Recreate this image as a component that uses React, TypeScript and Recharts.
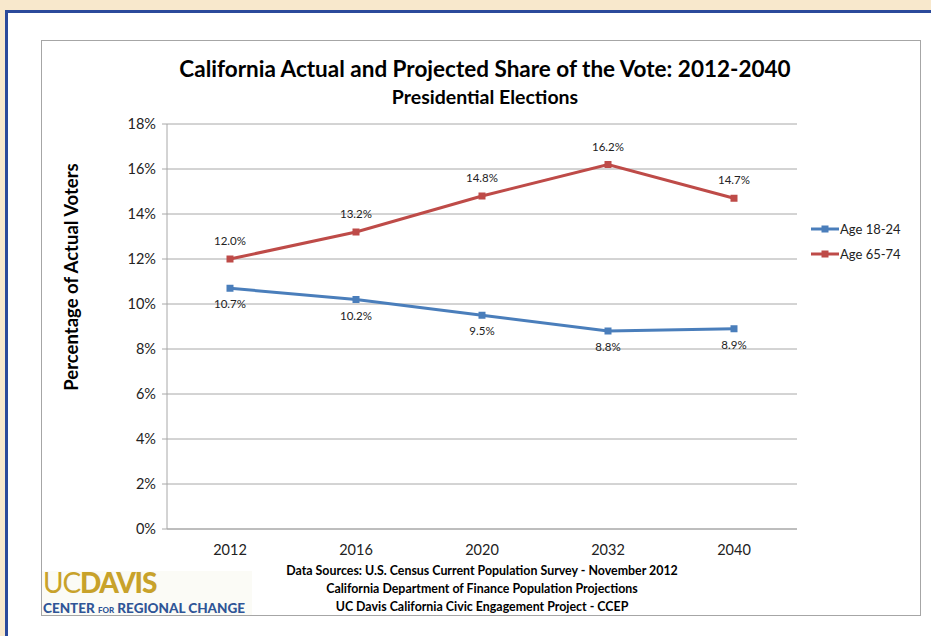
import React from 'react'
import { LineChart, Line, XAxis, YAxis, CartesianGrid, LabelList } from 'recharts'

const YEARS = ['2012', '2016', '2020', '2032', '2040']
const AGE_18_24 = [10.7, 10.2, 9.5, 8.8, 8.9]
const AGE_65_74 = [12.0, 13.2, 14.8, 16.2, 14.7]
const Y_TICKS = [0, 2, 4, 6, 8, 10, 12, 14, 16, 18]
const SOURCES = [
  'Data Sources: U.S. Census Current Population Survey - November 2012',
  'California Department of Finance Population Projections',
  'UC Davis California Civic Engagement Project - CCEP',
]

const BLUE = '#4a7ebb'
const RED = '#be4b48'
const FONT = 'Lato, "Open Sans", sans-serif'

const data = YEARS.map((year, i) => ({ year, young: AGE_18_24[i], old: AGE_65_74[i] }))

const SquareDot = (props: any) => {
  const { cx, cy, stroke } = props
  if (cx == null || cy == null) return null
  return <rect x={cx - 3.5} y={cy - 3.5} width={7} height={7} fill={stroke} />
}

const LegendBox = () => (
  <div style={{ fontFamily: FONT, fontSize: 13, color: '#222' }}>
    {[
      { name: 'Age 18-24', color: BLUE },
      { name: 'Age 65-74', color: RED },
    ].map((s) => (
      <div key={s.name} style={{ display: 'flex', alignItems: 'center', height: 25 }}>
        <svg width={28} height={10}>
          <line x1={0} y1={5} x2={28} y2={5} stroke={s.color} strokeWidth={3} />
          <rect x={10.5} y={1.5} width={7} height={7} fill={s.color} />
        </svg>
        <span style={{ marginLeft: 1 }}>{s.name}</span>
      </div>
    ))}
  </div>
)

export default function App() {
  return (
    <div style={{ position: 'absolute', left: 0, top: 0, width: 931, height: 636, background: '#f8e8cc', overflow: 'hidden', fontFamily: FONT }}>
      <div style={{ position: 'absolute', left: 5, top: 10, width: 960, height: 660, border: '3px solid #2b4a9b', background: '#fff' }} />
      <div style={{ position: 'absolute', left: 41, top: 40, width: 878, height: 574, border: '1px solid #a6a6a6', background: '#fff' }}>
        <div style={{ position: 'absolute', left: 0, width: 878, top: 14, textAlign: 'center', fontWeight: 700, fontSize: 22.5, color: '#000', paddingLeft: 4 }}>
          California Actual and Projected Share of the Vote: 2012-2040
        </div>
        <div style={{ position: 'absolute', left: 0, width: 878, top: 44, textAlign: 'center', fontWeight: 700, fontSize: 19.5, color: '#000', paddingLeft: 4 }}>
          Presidential Elections
        </div>
        <div style={{ position: 'absolute', left: 29, top: 236, width: 0, height: 0 }}>
          <div style={{ position: 'absolute', transform: 'translate(-50%, -50%) rotate(-90deg)', whiteSpace: 'nowrap', fontWeight: 700, fontSize: 18.5, color: '#000' }}>
            Percentage of Actual Voters
          </div>
        </div>
        <LineChart width={878} height={574} data={data} margin={{ top: 83, right: 123, bottom: 56, left: 60 }}>
          <CartesianGrid vertical={false} stroke="#a8a8a8" strokeWidth={1} />
          <XAxis
            dataKey="year"
            scale="band"
            stroke="#a8a8a8"
            tickLine={false}
            tick={{ fill: '#222', fontSize: 14.5 }}
            tickMargin={10}
          />
          <YAxis
            width={65}
            domain={[0, 18]}
            ticks={Y_TICKS}
            interval={0}
            tickFormatter={(v: number) => `${v}%`}
            stroke="#a8a8a8"
            tickSize={5}
            tick={{ fill: '#222', fontSize: 14.5 }}
            tickMargin={6}
          />
          <Line
            dataKey="young"
            name="Age 18-24"
            stroke={BLUE}
            strokeWidth={3}
            dot={<SquareDot />}
            activeDot={false}
            isAnimationActive={false}
          >
            <LabelList
              dataKey="young"
              position="bottom"
              offset={12}
              formatter={(v: any) => `${Number(v).toFixed(1)}%`}
              style={{ fill: '#222', fontSize: 11.5 }}
            />
          </Line>
          <Line
            dataKey="old"
            name="Age 65-74"
            stroke={RED}
            strokeWidth={3}
            dot={<SquareDot />}
            activeDot={false}
            isAnimationActive={false}
          >
            <LabelList
              dataKey="old"
              position="top"
              offset={14}
              formatter={(v: any) => `${Number(v).toFixed(1)}%`}
              style={{ fill: '#222', fontSize: 11.5 }}
            />
          </Line>
        </LineChart>
        <div style={{ position: 'absolute', left: 769, top: 175, width: 110 }}>
          <LegendBox />
        </div>
        <div style={{ position: 'absolute', left: 0, top: 530, width: 210, height: 44, background: '#fbfbf6' }}>
          <div style={{ position: 'absolute', left: 1, top: -2, fontSize: 28, lineHeight: '26px', color: '#c8a22a', letterSpacing: -1.2 }}>
            <span style={{ fontWeight: 400 }}>UC</span>
            <span style={{ fontWeight: 900 }}>DAVIS</span>
          </div>
          <div style={{ position: 'absolute', left: 1, top: 31, fontSize: 13.5, lineHeight: '13px', fontWeight: 900, color: '#2f5597', whiteSpace: 'nowrap', letterSpacing: 0 }}>
            CENTER <span style={{ fontSize: 8 }}>FOR</span> REGIONAL CHANGE
          </div>
        </div>
        <div style={{ position: 'absolute', left: 190, width: 500, top: 521, textAlign: 'center', fontWeight: 700, fontSize: 12.4, lineHeight: '18px', color: '#000' }}>
          {SOURCES.map((s) => (
            <div key={s}>{s}</div>
          ))}
        </div>
      </div>
    </div>
  )
}
